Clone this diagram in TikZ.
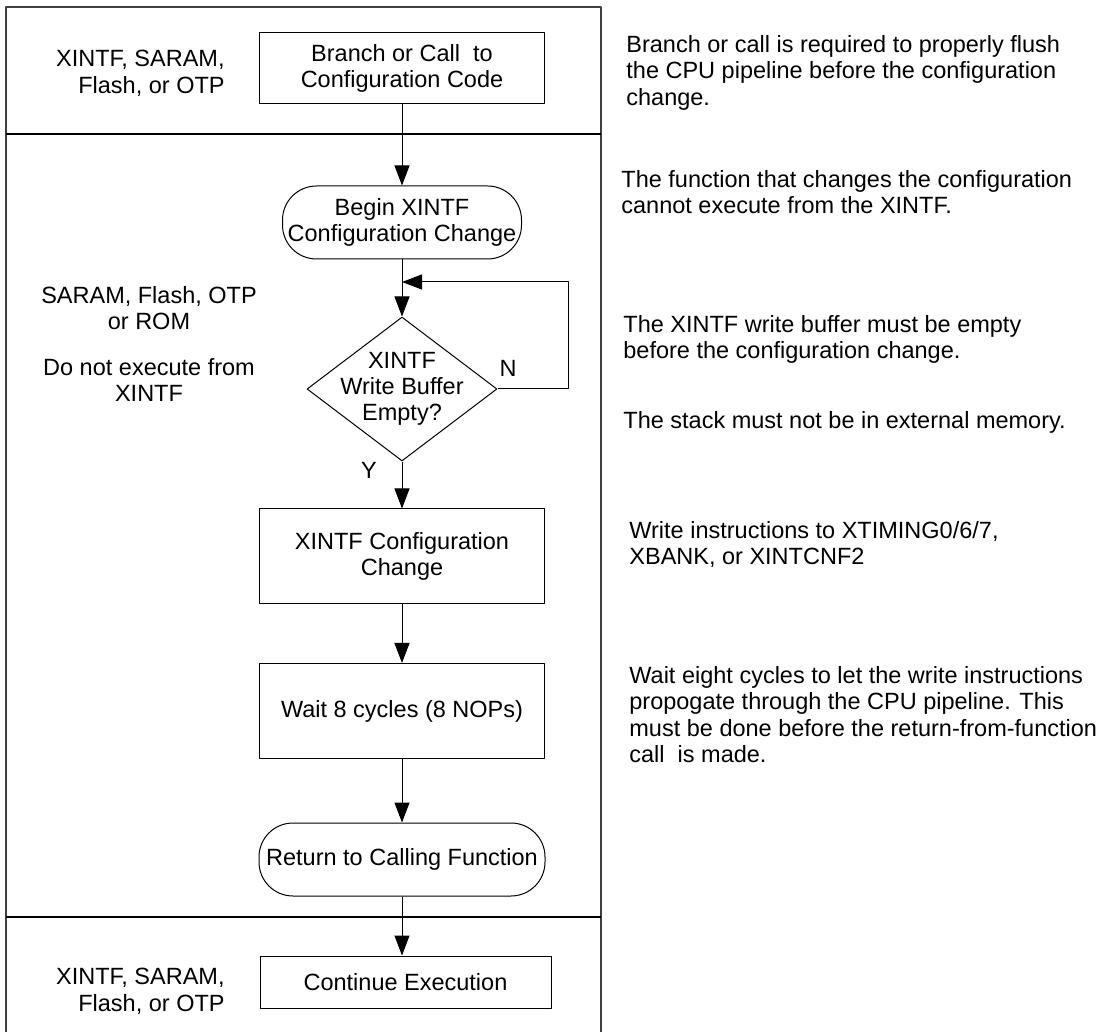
\documentclass[tikz,border=0pt]{standalone}
\usepackage{fontspec}
\setmainfont{Liberation Sans}
\usetikzlibrary{shapes.geometric,arrows.meta}
\tikzset{
  proc/.style={draw, line width=0.5pt, minimum width=142.5pt, inner sep=0pt, align=center},
  term/.style={proc, rounded corners=17pt, minimum height=36.5pt},
  decision/.style={diamond, draw, line width=0.5pt, minimum width=95pt, minimum height=72pt, inner sep=0pt},
  note/.style={anchor=north west, align=left, inner sep=0pt},
  mem/.style={align=center, inner sep=0pt, anchor=north},
  flow/.style={-{Triangle[length=10pt,width=7.5pt]}, line width=0.5pt}
}
\begin{document}
\begin{tikzpicture}[x=0.5pt, y=-0.5pt, font=\fontsize{11.75pt}{13.15pt}\selectfont, line join=round]
\def\xc{402}
\useasboundingbox (0,0) rectangle (1105,1032);
% memory zones
\draw[line width=0.7pt, black!75] (6,1032) -- (6,7) -- (601,7) -- (601,1032);
\draw[line width=1.3pt] (6,134) -- (601,134) (6,917) -- (601,917);
% flow
\node[proc, minimum height=35.5pt] (call) at (\xc,68.5) {Branch or Call\ \ to\\Configuration Code};
\node[term, minimum width=119.5pt] (begin) at (\xc,222.5) {Begin XINTF\\Configuration Change};
\node[decision] (test) at (\xc,389) {};
\node[align=center, inner sep=0pt] (testtxt) at (test) {XINTF\\Write Buffer\\Empty?};
\node[proc, minimum height=47.5pt] (cfg) at (\xc,556.5) {XINTF Configuration\\Change};
\node[proc, minimum height=47.5pt] (wait) at (\xc,711) {Wait 8 cycles (8 NOPs)};
\node[term, minimum width=143pt] (ret) at (\xc,859.5) {Return to Calling Function};
\node[proc, minimum width=145.5pt, minimum height=26pt] (cont) at (405.5,982) {Continue Execution};
\draw[flow] (call) -- (begin);
\draw[flow] (begin) -- (test);
\draw[flow] (test) -- (cfg);
\draw[flow] (cfg) -- (wait);
\draw[flow] (wait) -- (ret);
\draw[flow] (ret.south) -- (ret.south |- cont.north);
% retry loop
\coordinate (loopR) at (568,282);
\coordinate (join) at (\xc,282);
\draw[flow] (test.east) -| (loopR) -- (join);
\node (no) at (508,368) {N};
\node (yes) at (369,470) {Y};
% where the code runs
\node[anchor=north east, align=right, inner sep=0pt] (memtop) at (225,50) {XINTF, SARAM,\\Flash, or OTP};
\node[mem] (memmid) at (149,286) {SARAM, Flash, OTP\\or ROM};
\node[mem] (warn) at (149,358) {Do not execute from\\XINTF};
\node[anchor=north east, align=right, inner sep=0pt] (membot) at (225,968) {XINTF, SARAM,\\Flash, or OTP};
% notes
\node[note] (n1) at (626,35) {Branch or call is required to properly flush\\the CPU pipeline before the configuration\\change.};
\node[note] (n2) at (621,170) {The function that changes the configuration\\cannot execute from the XINTF.};
\node[note] (n3) at (623,315) {The XINTF write buffer must be empty\\before the configuration change.};
\node[note] (n4) at (623,411) {The stack must not be in external memory.};
\node[note] (n5) at (629,521) {Write instructions to XTIMING0/6/7,\\XBANK, or XINTCNF2};
\node[note] (n6) at (629,666) {Wait eight cycles to let the write instructions\\propogate through the CPU pipeline. This\\must be done before the return-from-function\\call\ \ is made.};
\end{tikzpicture}
\end{document}
